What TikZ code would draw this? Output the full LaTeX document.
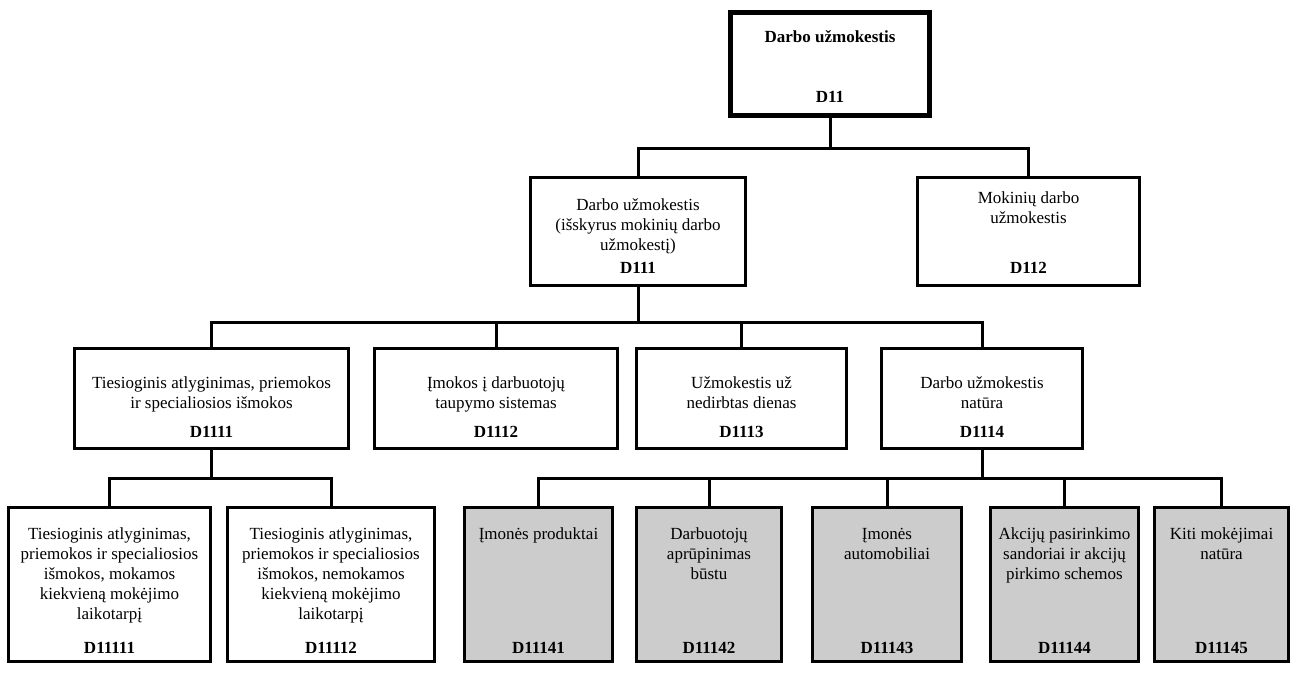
\documentclass[tikz,border=0pt]{standalone}
\usepackage{fontspec}
\setmainfont{Liberation Serif}
\usetikzlibrary{positioning}

\tikzset{
  box/.style={draw, line width=3.5pt, fill=white, inner sep=0pt},
  topbox/.style={box, line width=5pt},
  greybox/.style={box, fill=black!20},
  link/.style={line width=3pt},
  txt/.style={align=center, inner sep=0pt, anchor=north, font=\fontsize{17}{20}\selectfont},
  code/.style={inner sep=0pt, anchor=base, font=\fontsize{17}{20}\selectfont\bfseries}
}

\begin{document}
\begin{tikzpicture}[x=1pt, y=-1pt]
\useasboundingbox (0,0) rectangle (1303,685);

% Top box
\node[topbox, minimum width=199pt, minimum height=103pt] (d11) at (830,64) {};
\node[txt, font=\fontsize{17}{20}\selectfont\bfseries] (d11t) at (d11 |- 0,28) {\strut Darbo užmokestis};
\node[code] (d11c) at (d11 |- 0,102) {D11};

% Second level
\node[box, minimum width=215pt, minimum height=108pt] (d111) at (638,231.5) {};
\node[box, minimum width=222pt, minimum height=108pt] (d112) at (1028.5,231.5) {};

\node[txt] (d111t) at (d111 |- 0,196) {\strut Darbo užmokestis\\(išskyrus mokinių darbo\\užmokestį)};
\node[code] (d111c) at (d111 |- 0,273) {D111};
\node[txt] (d112t) at (d112 |- 0,189) {\strut Mokinių darbo\\užmokestis};
\node[code] (d112c) at (d112 |- 0,273) {D112};

% Third level
\node[box, minimum width=274pt, minimum height=100pt] (d1111) at (211.5,398.5) {};
\node[box, minimum width=243pt, minimum height=100pt] (d1112) at (496,398.5) {};
\node[box, minimum width=210pt, minimum height=100pt] (d1113) at (741.5,398.5) {};
\node[box, minimum width=201pt, minimum height=100pt] (d1114) at (982,398.5) {};

\node[txt] (d1111t) at (d1111 |- 0,374) {\strut Tiesioginis atlyginimas, priemokos\\ir specialiosios išmokos};
\node[txt] (d1112t) at (d1112 |- 0,374) {\strut Įmokos į darbuotojų\\taupymo sistemas};
\node[txt] (d1113t) at (d1113 |- 0,374) {\strut Užmokestis už\\nedirbtas dienas};
\node[txt] (d1114t) at (d1114 |- 0,374) {\strut Darbo užmokestis\\natūra};
\node[code] (d1111c) at (d1111 |- 0,437) {D1111};
\node[code] (d1112c) at (d1112 |- 0,437) {D1112};
\node[code] (d1113c) at (d1113 |- 0,437) {D1113};
\node[code] (d1114c) at (d1114 |- 0,437) {D1114};

% Fourth level
\node[box, minimum width=202pt, minimum height=154pt] (d11111) at (109.5,584.5) {};
\node[box, minimum width=207pt, minimum height=154pt] (d11112) at (331,584.5) {};
\node[greybox, minimum width=148pt, minimum height=154pt] (d11141) at (538.5,584.5) {};
\node[greybox, minimum width=145pt, minimum height=154pt] (d11142) at (709,584.5) {};
\node[greybox, minimum width=149pt, minimum height=154pt] (d11143) at (887,584.5) {};
\node[greybox, minimum width=148pt, minimum height=154pt] (d11144) at (1064.5,584.5) {};
\node[greybox, minimum width=134pt, minimum height=154pt] (d11145) at (1221.5,584.5) {};

\node[txt] (d11111t) at (d11111 |- 0,525) {\strut Tiesioginis atlyginimas,\\priemokos ir specialiosios\\išmokos, mokamos\\kiekvieną mokėjimo\\laikotarpį};
\node[txt] (d11112t) at (d11112 |- 0,525) {\strut Tiesioginis atlyginimas,\\priemokos ir specialiosios\\išmokos, nemokamos\\kiekvieną mokėjimo\\laikotarpį};
\node[txt] (d11141t) at (d11141 |- 0,525) {\strut Įmonės produktai};
\node[txt] (d11142t) at (d11142 |- 0,525) {\strut Darbuotojų\\aprūpinimas\\būstu};
\node[txt] (d11143t) at (d11143 |- 0,525) {\strut Įmonės\\automobiliai};
\node[txt] (d11144t) at (d11144 |- 0,525) {\strut Akcijų pasirinkimo\\sandoriai ir akcijų\\pirkimo schemos};
\node[txt] (d11145t) at (d11145 |- 0,525) {\strut Kiti mokėjimai\\natūra};
\node[code] (d11111c) at (d11111 |- 0,653) {D11111};
\node[code] (d11112c) at (d11112 |- 0,653) {D11112};
\node[code] (d11141c) at (d11141 |- 0,653) {D11141};
\node[code] (d11142c) at (d11142 |- 0,653) {D11142};
\node[code] (d11143c) at (d11143 |- 0,653) {D11143};
\node[code] (d11144c) at (d11144 |- 0,653) {D11144};
\node[code] (d11145c) at (d11145 |- 0,653) {D11145};

% Connectors
\coordinate (bus1) at (830,148);
\coordinate (bus2) at (638,322);
\coordinate (bus3) at (211.5,478);
\coordinate (bus4) at (982,478);

\draw[link] (d11.south) -- (bus1);
\draw[link] (d111.north) |- (bus1) -| (d112.north);

\draw[link] (d111.south) -- (bus2);
\draw[link] (d1111.north) |- (bus2) -| (d1114.north);
\draw[link] (d1112.north) -- (d1112.north |- bus2);
\draw[link] (d1113.north) -- (d1113.north |- bus2);

\draw[link] (d1111.south) -- (bus3);
\draw[link] (d11111.north) |- (bus3) -| (d11112.north);

\draw[link] (d1114.south) -- (bus4);
\draw[link] (d11141.north) |- (bus4) -| (d11145.north);
\draw[link] (d11142.north) -- (d11142.north |- bus4);
\draw[link] (d11143.north) -- (d11143.north |- bus4);
\draw[link] (d11144.north) -- (d11144.north |- bus4);

\end{tikzpicture}
\end{document}
